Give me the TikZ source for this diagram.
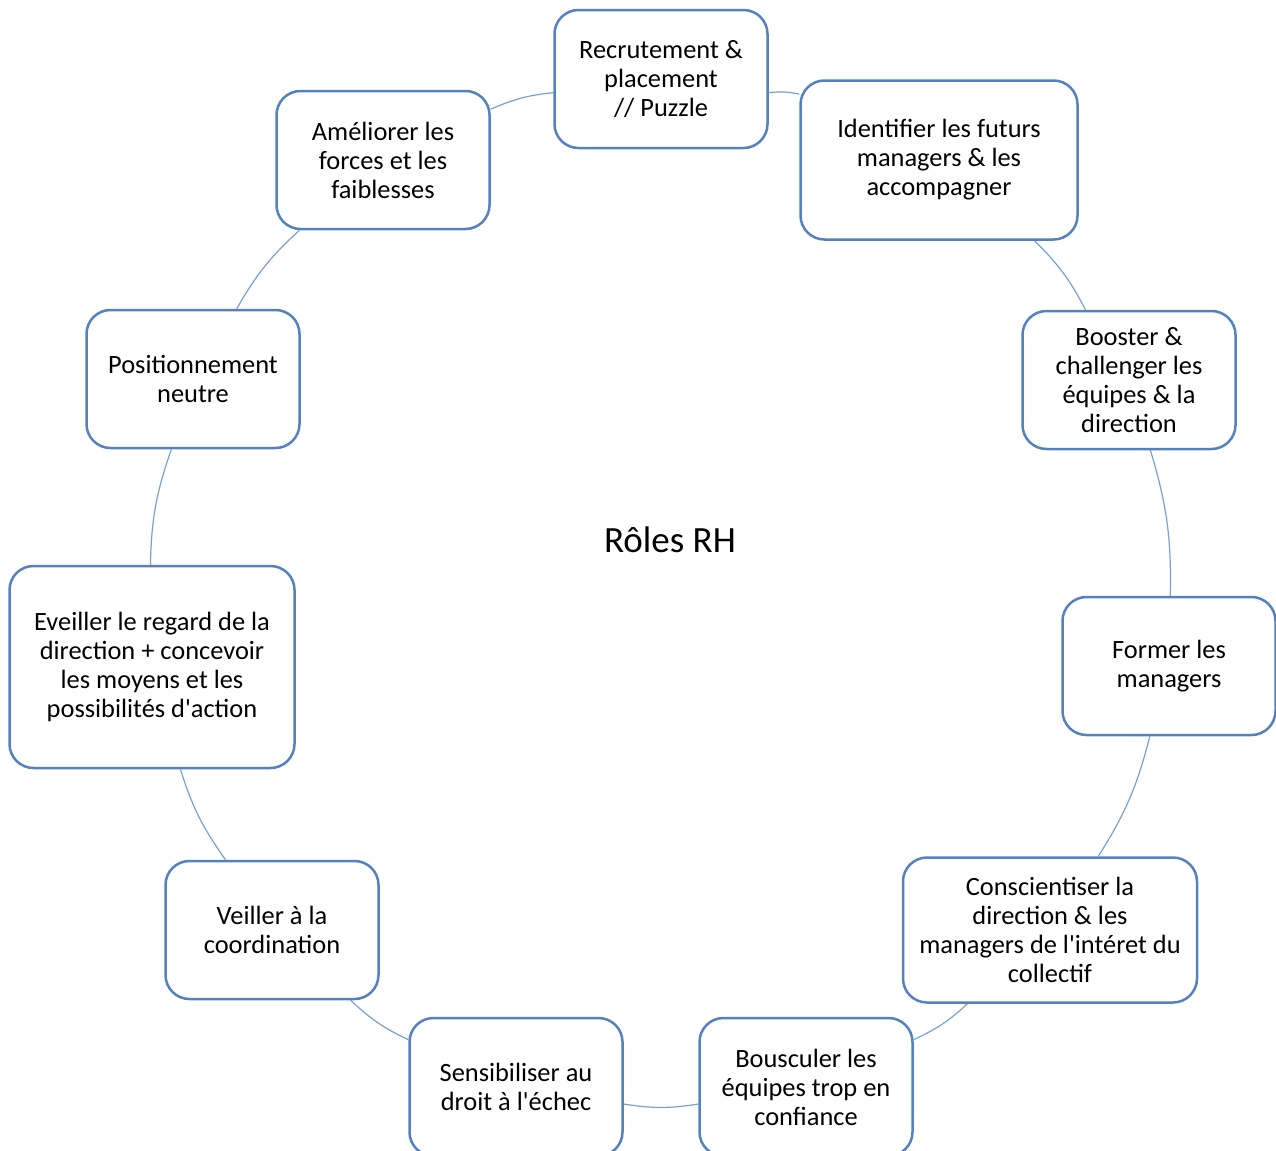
\documentclass[tikz,border=0pt]{standalone}
\usepackage{fontspec}
\setmainfont{Carlito}[Ligatures=TeXOff]
\definecolor{boxblue}{RGB}{84,130,190}
\definecolor{linkblue}{RGB}{120,160,210}
\begin{document}
\begin{tikzpicture}[x=0.5pt,y=-0.5pt,
  role/.style={draw=boxblue, line width=1.25pt, fill=white, rounded corners=12pt,
    align=center, font=\fontsize{13.2}{14.5}\selectfont, inner sep=0pt,
    minimum width=106.5pt, minimum height=69pt},
  link/.style={draw=linkblue, line width=0.6pt, bend left=9}]
\useasboundingbox (0,0) rectangle (1276,1151);
\node[role] (R) at (661,79) {Recrutement \&\\placement\\// Puzzle};
\node[role, minimum width=138.5pt, minimum height=79.5pt] (I) at (939,160) {Identifier les futurs\\managers \& les\\accompagner};
\node[role] (B) at (1129,380) {Booster \&\\challenger les\\équipes \& la\\direction};
\node[role] (F) at (1169,666) {Former les\\managers};
\node[role, minimum width=147pt, minimum height=72.5pt] (C) at (1050,930) {Conscientiser la\\direction \& les\\managers de l'intéret du\\collectif};
\node[role] (Bo) at (806,1087) {Bousculer les\\équipes trop en\\confiance};
\node[role] (S) at (516,1087) {Sensibiliser au\\droit à l'échec};
\node[role] (V) at (272,930) {Veiller à la\\coordination};
\node[role, minimum width=142.5pt, minimum height=101pt] (E) at (152,667) {Eveiller le regard de la\\direction + concevoir\\les moyens et les\\possibilités d'action};
\node[role] (P) at (193,379) {Positionnement\\neutre};
\node[role] (A) at (383,160) {Améliorer les\\forces et les\\faiblesses};
\node[font=\fontsize{18.5}{22}\selectfont] (T) at (670,540) {Rôles RH};
\draw[link] (R) to (I);
\draw[link] (I) to (B);
\draw[link] (B) to (F);
\draw[link] (F) to (C);
\draw[link] (C) to (Bo);
\draw[link] (Bo) to (S);
\draw[link] (S) to (V);
\draw[link] (V) to (E);
\draw[link] (E) to (P);
\draw[link] (P) to (A);
\draw[link] (A) to (R);
\end{tikzpicture}
\end{document}
